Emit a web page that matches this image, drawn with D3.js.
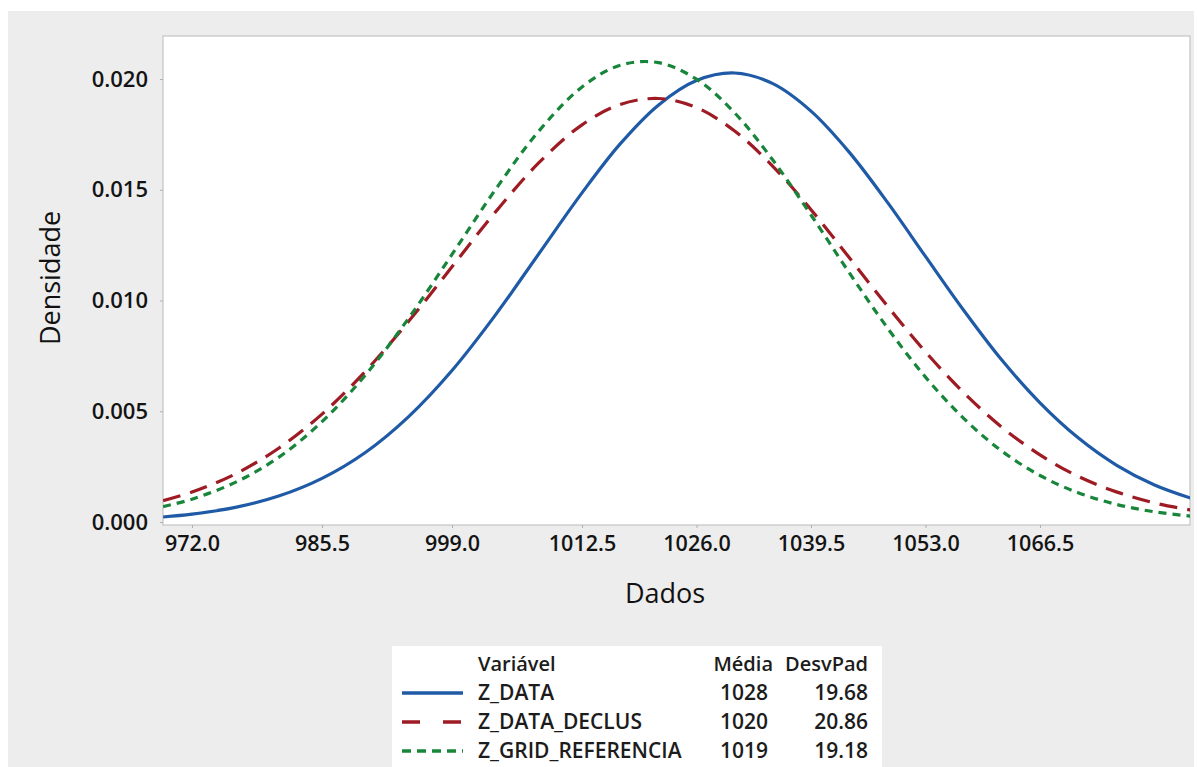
<!DOCTYPE html>
<html>
<head>
<meta charset="utf-8">
<script src="https://cdn.jsdelivr.net/npm/d3@7"></script>
<style>
  body { margin: 0; background: #ffffff; }
  svg { display: block; font-family: "Open Sans", "Noto Sans", sans-serif; }
</style>
</head>
<body>
<svg id="chart" width="1197" height="767"></svg>
<script>
// values (x in axis units, y = density)
const dados = [969, 972, 976.5, 981, 985.5, 990, 994.5, 999, 1003.5, 1008, 1012.5,
    1017, 1021.5, 1026, 1030.5, 1035, 1039.5, 1044, 1048.5, 1053, 1057.5,
    1062, 1066.5, 1071, 1075.5, 1080, 1084.5];
const zData = [0.000227, 0.000354, 0.00066, 0.00117, 0.00197, 0.00314, 0.00476, 0.00684, 0.00934, 0.0121, 0.01486,
    0.01707, 0.01882, 0.01993, 0.02027, 0.01979, 0.01855, 0.0167, 0.01444, 0.01199, 0.00956,
    0.00731, 0.00538, 0.0038, 0.00257, 0.00167, 0.00105];
const zDataDeclus = [0.000963, 0.00135, 0.00217, 0.00333, 0.00487, 0.0068, 0.00906, 0.01152, 0.01399, 0.01621, 0.01793,
    0.01885, 0.01912, 0.01871, 0.01765, 0.01606, 0.0141, 0.01194, 0.00975, 0.00768, 0.00584,
    0.00428, 0.00303, 0.00206, 0.00136, 0.000861, 0.000526];
const zGridReferencia = [0.000696, 0.00103, 0.00179, 0.00292, 0.00453, 0.00663, 0.0092, 0.01208, 0.015, 0.01764, 0.01964,
    0.02062, 0.02074, 0.01999, 0.01847, 0.01634, 0.01386, 0.01126, 0.00877, 0.00654, 0.00468,
    0.0032, 0.0021, 0.00132, 0.000797, 0.00046, 0.000255];

const variaveis = ["Z_DATA", "Z_DATA_DECLUS", "Z_GRID_REFERENCIA"];
const medias = [1028, 1020, 1019];
const desvPads = [19.68, 20.86, 19.18];

const xTicks = [972.0, 985.5, 999.0, 1012.5, 1026.0, 1039.5, 1053.0, 1066.5];
const yTicks = [0.000, 0.005, 0.010, 0.015, 0.020];

const series = [
    {name: variaveis[0], values: zData, color: "#1f5aa6", dash: null},
    {name: variaveis[1], values: zDataDeclus, color: "#9e1b24", dash: "18 10"},
    {name: variaveis[2], values: zGridReferencia, color: "#18863a", dash: "8 6"}
];

const svg = d3.select("#chart");
const plot = {left: 163, top: 36, right: 1190, bottom: 525};

// gray panel
svg.append("rect").attr("x", 8).attr("y", 11).attr("width", 1186).attr("height", 756)
    .attr("fill", "#ededed");

// axis ticks in the picture are not evenly spaced on the right half
let x = d3.scaleLinear()
    .domain([972, 1012.5, 1066.5])
    .range([192, 582, 1040]);
let y = d3.scaleLinear()
    .domain([0, 0.02])
    .range([522, 79]);

svg.append("rect").attr("x", plot.left).attr("y", plot.top)
    .attr("width", plot.right - plot.left).attr("height", plot.bottom - plot.top)
    .attr("fill", "#ffffff").attr("stroke", "#c4c4c4").attr("stroke-width", 1.2);

svg.append("clipPath").attr("id", "clip").append("rect")
    .attr("x", plot.left).attr("y", plot.top)
    .attr("width", plot.right - plot.left).attr("height", plot.bottom - plot.top);

// axes
let xAxis = svg.append("g").attr("transform", "translate(0," + plot.bottom + ")")
    .call(d3.axisBottom(x).tickValues(xTicks).tickFormat(d3.format(".1f")).tickSize(3).tickPadding(8));
let yAxis = svg.append("g").attr("transform", "translate(" + plot.left + ",0)")
    .call(d3.axisLeft(y).tickValues(yTicks).tickFormat(d3.format(".3f")).tickSize(3).tickPadding(12));
[xAxis, yAxis].forEach(function(a){
    a.select(".domain").remove();
    a.selectAll(".tick line").attr("stroke", "#b0b0b0");
    a.selectAll(".tick text").attr("fill", "#141414")
        .attr("font-family", "'Open Sans', sans-serif").attr("font-weight", 600);
});
xAxis.selectAll(".tick text").attr("font-size", 21.5);
yAxis.selectAll(".tick text").attr("font-size", 22);

// curves
let line = d3.line()
    .x(function(d){ return x(d[0]); })
    .y(function(d){ return y(d[1]); })
    .curve(d3.curveCatmullRom);

let curves = svg.append("g").attr("clip-path", "url(#clip)");
series.forEach(function(s){
    curves.append("path")
        .datum(dados.map(function(v, i){ return [v, s.values[i]]; }))
        .attr("fill", "none")
        .attr("stroke", s.color)
        .attr("stroke-width", 3.2)
        .attr("stroke-dasharray", s.dash)
        .attr("d", line);
});

// axis titles
svg.append("text").attr("x", 665).attr("y", 603)
    .attr("text-anchor", "middle").attr("font-size", 27).attr("font-weight", 500).attr("fill", "#111")
    .text("Dados");
svg.append("text").attr("transform", "translate(60,278) rotate(-90)")
    .attr("text-anchor", "middle").attr("font-size", 27).attr("font-weight", 500).attr("fill", "#111")
    .text("Densidade");

// legend
let legend = svg.append("g").attr("font-weight", 600).attr("fill", "#1c1c1c");
legend.append("rect").attr("x", 392).attr("y", 646).attr("width", 490).attr("height", 130)
    .attr("fill", "#ffffff");
let rowY = [664, 693, 722, 751];
legend.append("text").attr("x", 478).attr("y", rowY[0] + 7).attr("font-size", 20)
    .text("Variável");
legend.append("text").attr("x", 773).attr("y", rowY[0] + 7).attr("font-size", 20)
    .attr("text-anchor", "end").text("Média");
legend.append("text").attr("x", 868).attr("y", rowY[0] + 7).attr("font-size", 20)
    .attr("text-anchor", "end").text("DesvPad");

let legendDash = ["none", "18 23", "9 6"];
series.forEach(function(s, i){
    let yy = rowY[i + 1];
    legend.append("line").attr("x1", 402).attr("x2", 463).attr("y1", yy).attr("y2", yy)
        .attr("stroke", s.color).attr("stroke-width", 3.5)
        .attr("stroke-dasharray", legendDash[i]);
    legend.append("text").attr("x", 478).attr("y", yy + 7).attr("font-size", 21)
        .text(s.name);
    legend.append("text").attr("x", 768).attr("y", yy + 7).attr("font-size", 21)
        .attr("text-anchor", "end").text(medias[i]);
    legend.append("text").attr("x", 868).attr("y", yy + 7).attr("font-size", 21)
        .attr("text-anchor", "end").text(d3.format(".2f")(desvPads[i]));
});
</script>
</body>
</html>
